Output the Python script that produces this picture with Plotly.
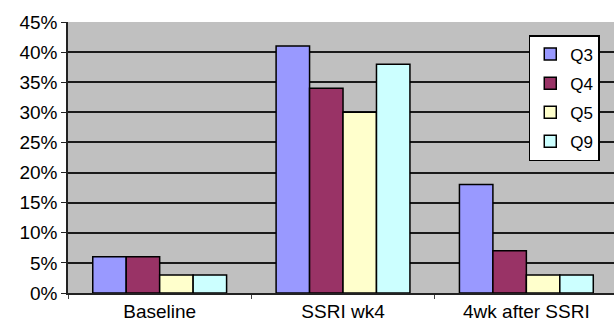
import plotly.graph_objects as go

categories = ["Baseline", "SSRI wk4", "4wk after SSRI"]
series_names = ["Q3", "Q4", "Q5", "Q9"]
q3 = [0.06, 0.41, 0.18]
q4 = [0.06, 0.34, 0.07]
q5 = [0.03, 0.30, 0.03]
q9 = [0.03, 0.38, 0.03]
colors = ["#9999FF", "#993366", "#FFFFCC", "#CCFFFF"]
y_ticks = [0, 0.05, 0.10, 0.15, 0.20, 0.25, 0.30, 0.35, 0.40, 0.45]

fig = go.Figure()
for name, vals, col in zip(series_names, [q3, q4, q5, q9], colors):
    fig.add_trace(go.Bar(
        x=categories, y=vals, name=name, legendgroup=name,
        marker=dict(color=col, line=dict(color="black", width=1.5)),
    ))

fig.update_layout(
    width=614, height=325,
    margin=dict(l=68, r=0, t=22, b=32),
    paper_bgcolor="white",
    plot_bgcolor="#C0C0C0",
    barmode="group",
    bargap=0.27,
    bargroupgap=0,
    font=dict(family="Arial, Liberation Sans, sans-serif", size=19, color="black"),
    showlegend=True,
    legend=dict(
        x=598 / 614, xanchor="right",
        y=1 - (35 - 22) / 271, yanchor="top",
        bgcolor="white", bordercolor="black", borderwidth=1.5,
        font=dict(size=17),
        tracegroupgap=4,
        itemwidth=30,
    ),
    xaxis=dict(
        range=[-0.5, 2.478],
        automargin=False,
        showline=True, linecolor="#222", linewidth=1.5,
        ticks="outside", tickson="boundaries", ticklen=4, tickcolor="#444",
        showgrid=False,
        tickfont=dict(size=19),
    ),
    yaxis=dict(
        range=[0, 0.45],
        automargin=False,
        tickvals=y_ticks, tickformat=".0%",
        showline=True, linecolor="#222", linewidth=1.5,
        ticks="outside", ticklen=5, tickcolor="#222",
        showgrid=True, gridcolor="#1a1a1a", gridwidth=1.5,
        zeroline=False,
        tickfont=dict(size=19),
    ),
)

fig.write_html(
    "out.html",
    config={"displayModeBar": False},
    post_script="document.body.style.margin='0';document.body.style.padding='0';",
)
